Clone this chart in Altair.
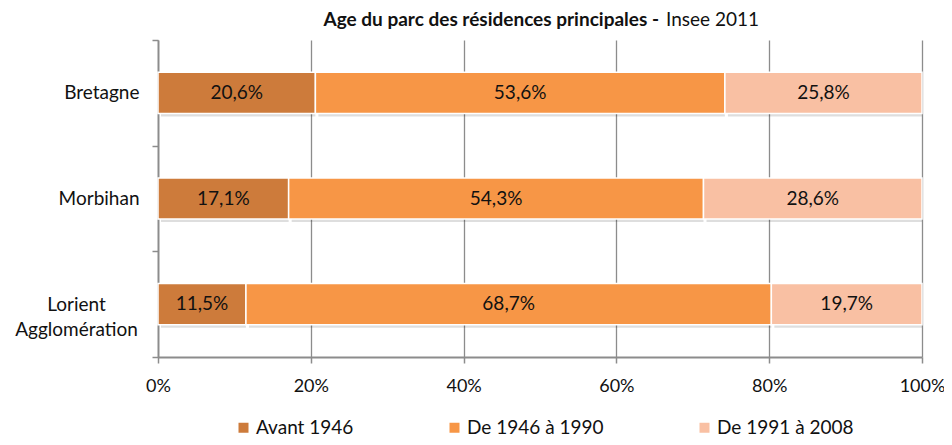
import altair as alt
import pandas as pd

categories = ["Bretagne", "Morbihan", "Lorient Agglomération"]
periods = ["Avant 1946", "De 1946 à 1990", "De 1991 à 2008"]
avant_1946 = [20.6, 17.1, 11.5]
de_1946_1990 = [53.6, 54.3, 68.7]
de_1991_2008 = [25.8, 28.6, 19.7]
colors = ["#CD7B3B", "#F79646", "#F9C0A3"]
x_ticks = [0, 0.2, 0.4, 0.6, 0.8, 1.0]

rows = []
for i, c in enumerate(categories):
    for j, (p, vals) in enumerate(zip(periods, [avant_1946, de_1946_1990, de_1991_2008])):
        rows.append({"cat": c, "period": p, "order": j, "value": vals[i]})
df = pd.DataFrame(rows)

FONT = "Lato"
FS = 19
GRAY = "#8c8c8c"
TXT = "#111"
MULTI = "datum.value == 'Lorient Agglomération'"

base = alt.Chart(df).transform_stack(
    stack="value", groupby=["cat"], as_=["v0", "v1"], offset="normalize",
    sort=[alt.SortField("order", "ascending")]
).transform_calculate(
    mid="(datum.v0 + datum.v1) / 2",
    label="replace(format(datum.value, '.1f'), '.', ',') + '%'"
)

y_enc = alt.Y(
    "cat:N", sort=categories, title=None,
    scale=alt.Scale(paddingInner=0, paddingOuter=0),
    axis=alt.Axis(
        tickBand="extent", tickSize=6, grid=False,
        labelPadding={"condition": {"test": MULTI, "value": 76}, "value": 13},
        labelAlign={"condition": {"test": MULTI, "value": "center"}, "value": "right"},
        labelFontSize=FS, labelFont=FONT, labelColor=TXT,
        labelLineHeight=25,
        labelExpr=MULTI + " ? ['Lorient', 'Agglomération'] : datum.value",
    ),
)

x_enc = alt.X(
    "v0:Q", title=None,
    scale=alt.Scale(domain=[0, 1], nice=False),
    axis=alt.Axis(
        values=x_ticks, format="%", tickSize=6, labelPadding=14, grid=True,
        labelFlush=False,
        labelFontSize=18, labelFont=FONT, labelColor=TXT,
    ),
)

shadow = base.mark_bar(height={"band": 0.39}, color="black", opacity=0.13,
                       xOffset=3, yOffset=3).encode(x=x_enc, x2="v1:Q", y=y_enc)

bars = base.mark_bar(height={"band": 0.39}, stroke="white", strokeWidth=1.5).encode(
    x=x_enc, x2="v1:Q", y=y_enc,
    color=alt.Color(
        "period:N", scale=alt.Scale(domain=periods, range=colors),
        legend=alt.Legend(
            title=None, orient="none", legendX=76, legendY=378, direction="horizontal",
            symbolType="square", symbolSize=100, symbolStrokeWidth=0,
            labelFontSize=FS, labelFont=FONT, labelColor=TXT, labelOffset=3,
            columnPadding=91, padding=0,
        ),
    ),
)

labels = base.mark_text(fontSize=FS, font=FONT, color=TXT).encode(
    x="mid:Q", y=y_enc, text="label:N"
)

title_data = alt.Data(values=[{"a": 1}])
title_bold = alt.Chart(title_data).mark_text(
    text="Age du parc des résidences principales -", align="right", baseline="middle",
    fontWeight="bold", fontSize=FS, font=FONT, color=TXT
).encode(x=alt.value(501), y=alt.value(-20))
title_norm = alt.Chart(title_data).mark_text(
    text="Insee 2011", align="left", baseline="middle",
    fontSize=FS, font=FONT, color=TXT
).encode(x=alt.value(508), y=alt.value(-20))

chart = alt.layer(shadow, bars, labels, title_bold, title_norm).properties(
    width=764, height=317,
    autosize=alt.AutoSizeParams(type="none"),
    padding={"left": 150, "top": 32, "right": 22, "bottom": 80},
).configure_axis(
    domainColor=GRAY, domainWidth=1.8, tickColor=GRAY, tickWidth=1.5,
    gridColor=GRAY, gridWidth=1.3, gridOpacity=1,
).configure_view(stroke=None)

chart.save("out.html", embed_options={"renderer": "svg", "actions": False})
